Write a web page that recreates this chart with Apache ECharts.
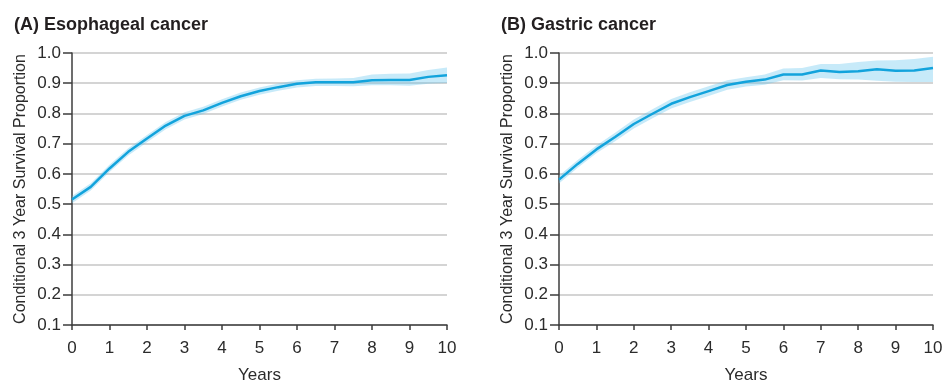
<!DOCTYPE html>
<html>
<head>
<meta charset="utf-8">
<script src="https://cdn.jsdelivr.net/npm/echarts@6/dist/echarts.min.js"></script>
<style>
  html, body { margin: 0; padding: 0; background: #ffffff; }
  #chart { width: 945px; height: 384px; }
</style>
</head>
<body>
<div id="chart"></div>
<script>
// Years since diagnosis (half-year steps)
const years = [0, 0.5, 1, 1.5, 2, 2.5, 3, 3.5, 4, 4.5, 5, 5.5, 6, 6.5, 7, 7.5, 8, 8.5, 9, 9.5, 10];

// (A) Esophageal cancer: conditional 3-year survival with 95% CI
const esoMean = [0.515, 0.557, 0.618, 0.673, 0.717, 0.760, 0.792, 0.810, 0.835, 0.857, 0.874, 0.887, 0.898, 0.903, 0.903, 0.903, 0.910, 0.911, 0.911, 0.921, 0.926];
const esoLow  = [0.503, 0.545, 0.606, 0.661, 0.705, 0.748, 0.780, 0.798, 0.823, 0.845, 0.862, 0.875, 0.886, 0.891, 0.891, 0.890, 0.893, 0.893, 0.892, 0.898, 0.901];
const esoHigh = [0.527, 0.569, 0.630, 0.685, 0.729, 0.772, 0.804, 0.822, 0.847, 0.869, 0.886, 0.899, 0.910, 0.915, 0.916, 0.917, 0.929, 0.931, 0.932, 0.944, 0.952];

// (B) Gastric cancer
const gasMean = [0.581, 0.633, 0.681, 0.722, 0.765, 0.799, 0.832, 0.854, 0.874, 0.894, 0.905, 0.912, 0.929, 0.929, 0.942, 0.937, 0.940, 0.946, 0.941, 0.942, 0.950];
const gasLow  = [0.568, 0.620, 0.668, 0.708, 0.750, 0.784, 0.816, 0.838, 0.858, 0.878, 0.889, 0.895, 0.910, 0.909, 0.917, 0.913, 0.912, 0.908, 0.905, 0.904, 0.904];
const gasHigh = [0.594, 0.646, 0.694, 0.736, 0.780, 0.814, 0.848, 0.870, 0.890, 0.910, 0.920, 0.929, 0.949, 0.950, 0.964, 0.964, 0.970, 0.975, 0.976, 0.980, 0.988];

// Axis ticks
const xTicks = { min: 0, max: 10, interval: 1 };
const yTicks = { min: 0.1, max: 1.0, interval: 0.1 };

const panels = [
  { title: '(A) Esophageal cancer', mean: esoMean, low: esoLow, high: esoHigh },
  { title: '(B) Gastric cancer', mean: gasMean, low: gasLow, high: gasHigh }
];

const FONT = '"Liberation Sans", Arial, Helvetica, sans-serif';
const TEXT = '#2b2b2b';
const AXIS = '#3c3c3c';
const LINE = '#12a3dc';
const BAND = 'rgba(100, 196, 238, 0.36)';

const grids = [
  { left: 72, right: 498, top: 53, height: 272, outerBoundsMode: 'none', containLabel: false },
  { left: 559, right: 12, top: 53, height: 272, outerBoundsMode: 'none', containLabel: false }
];

const pairs = (xs, ys) => xs.map((x, i) => [x, ys[i]]);

const titles = [
  { text: panels[0].title, left: 9, top: 11 },
  { text: panels[1].title, left: 496, top: 11 }
].map(t => Object.assign(t, {
  textStyle: { fontFamily: FONT, fontSize: 18, fontWeight: 'bold', color: '#231f20' }
}));

const xAxes = grids.map((g, i) => ({
  type: 'value', gridIndex: i,
  min: xTicks.min, max: xTicks.max, interval: xTicks.interval,
  name: 'Years', nameLocation: 'middle', nameGap: 42,
  nameTextStyle: { fontFamily: FONT, fontSize: 17, color: TEXT },
  axisLine: { show: true, onZero: false, lineStyle: { color: AXIS, width: 1.5 } },
  axisTick: { show: true, length: 5, lineStyle: { color: AXIS, width: 1.5 } },
  axisLabel: { fontFamily: FONT, fontSize: 17, color: TEXT, margin: 15 },
  splitLine: { show: false }
}));

const yAxes = grids.map((g, i) => ({
  type: 'value', gridIndex: i,
  min: yTicks.min, max: yTicks.max, interval: yTicks.interval,
  name: 'Conditional 3 Year Survival Proportion', nameLocation: 'middle', nameGap: 43,
  nameTextStyle: { fontFamily: FONT, fontSize: 16, color: TEXT },
  axisLine: { show: true, lineStyle: { color: AXIS, width: 1.5 } },
  axisTick: { show: true, length: 9, lineStyle: { color: AXIS, width: 1.5 } },
  axisLabel: {
    fontFamily: FONT, fontSize: 17, color: TEXT, margin: 11,
    formatter: v => v.toFixed(1)
  },
  splitLine: { show: true, lineStyle: { color: '#d4d4d4', width: 2 } }
}));

// Confidence band drawn as one polygon: upper bound left-to-right, lower bound back.
function bandRenderer(low, high) {
  return function (params, api) {
    if (params.dataIndex !== 0) return null;
    const top = years.map((x, k) => api.coord([x, high[k]]));
    const bottom = years.map((x, k) => api.coord([x, low[k]])).reverse();
    return {
      type: 'polygon',
      shape: { points: top.concat(bottom) },
      style: { fill: BAND },
      silent: true
    };
  };
}

const series = [];
panels.forEach((p, i) => {
  series.push({
    type: 'custom', xAxisIndex: i, yAxisIndex: i,
    data: years.map((x, k) => [x, p.low[k], p.high[k]]),
    encode: { x: 0, y: [1, 2] },
    renderItem: bandRenderer(p.low, p.high),
    silent: true, z: 1
  });
  series.push({
    type: 'line', xAxisIndex: i, yAxisIndex: i,
    data: pairs(years, p.mean), symbol: 'none',
    lineStyle: { color: LINE, width: 2.5 }, z: 3
  });
});

const chart = echarts.init(document.getElementById('chart'), null, { renderer: 'canvas' });
chart.setOption({
  animation: false,
  backgroundColor: '#ffffff',
  title: titles,
  grid: grids,
  xAxis: xAxes,
  yAxis: yAxes,
  series: series
});
</script>
</body>
</html>
